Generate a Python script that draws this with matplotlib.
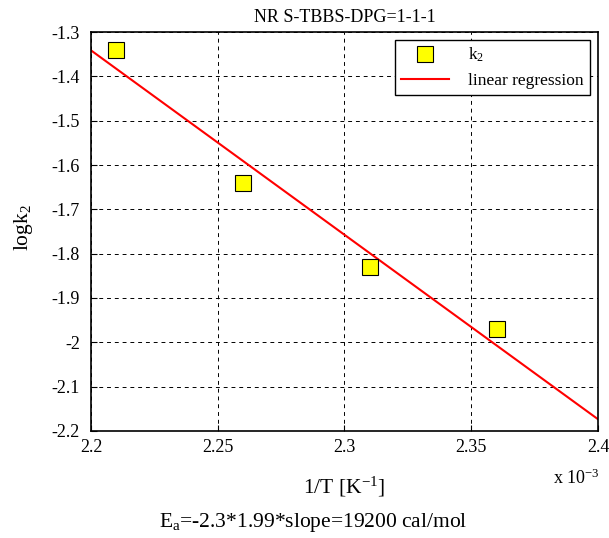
import numpy as np
import matplotlib
matplotlib.use("Agg")
import matplotlib.pyplot as plt

inv_T = [2.21, 2.26, 2.31, 2.36]
log_k2 = [-1.34, -1.64, -1.83, -1.97]
x_ticks = [2.2, 2.25, 2.3, 2.35, 2.4]
y_ticks = [-1.3, -1.4, -1.5, -1.6, -1.7, -1.8, -1.9, -2.0, -2.1, -2.2]
y_labels = ["-1.3", "-1.4", "-1.5", "-1.6", "-1.7", "-1.8", "-1.9", "-2", "-2.1", "-2.2"]

plt.rcParams["font.family"] = ["Liberation Serif", "DejaVu Serif"]
plt.rcParams["mathtext.fontset"] = "custom"
plt.rcParams["mathtext.rm"] = "Liberation Serif"
plt.rcParams["mathtext.it"] = "Liberation Serif"

fig = plt.figure(figsize=(6.09, 5.38), dpi=100)
ax = fig.add_axes([0.1494, 0.1989, 0.8325, 0.7416])

# least squares line through the four points
slope, intercept = np.polyfit(inv_T, log_k2, 1)
xs = np.linspace(2.2, 2.4, 100)

ax.plot(inv_T, log_k2, "s", color="yellow", markeredgecolor="black", markersize=12,
        markeredgewidth=0.8, label="k$_2$", zorder=3)
ax.plot(xs, slope * xs + intercept, color="red", lw=1.5, label="linear regression")

ax.set_xlim(2.2, 2.4)
ax.set_ylim(-2.2, -1.3)
ax.set_xticks(x_ticks)
ax.set_xticklabels([f"{v:g}" for v in x_ticks])
ax.set_yticks(y_ticks)
ax.set_yticklabels(y_labels)
ax.tick_params(direction="in", labelsize=13, length=4)
ax.tick_params(axis="x", pad=6)
ax.tick_params(axis="y", pad=8)
ax.grid(True, color="black", linestyle=(0, (4, 4)), linewidth=0.7)
for s in ax.spines.values():
    s.set_linewidth(1.2)

ax.set_title("NR S-TBBS-DPG=1-1-1", fontsize=13, pad=7)
ax.set_ylabel("logk$_2$", fontsize=15.5, va="center")
ax.yaxis.set_label_coords(-0.134, 0.51)
ax.set_xlabel("1/T [K$^{-1}$]", fontsize=15.5, va="center")
ax.xaxis.set_label_coords(0.5, -0.14)
fig.text(0.947, 0.111, "x 10$^{-3}$", fontsize=13, ha="center", va="center")
fig.text(0.515, 0.028, "E$_a$=-2.3*1.99*slope=19200 cal/mol", fontsize=15.5,
         ha="center", va="center")

leg = ax.legend(loc="upper right", fontsize=12.5, fancybox=False, framealpha=1,
                edgecolor="black", borderpad=0.35, handlelength=2.8,
                handletextpad=1.1, borderaxespad=0.45, labelspacing=0.5)
leg.get_frame().set_linewidth(1.0)

fig.savefig("out.png", dpi=100)
